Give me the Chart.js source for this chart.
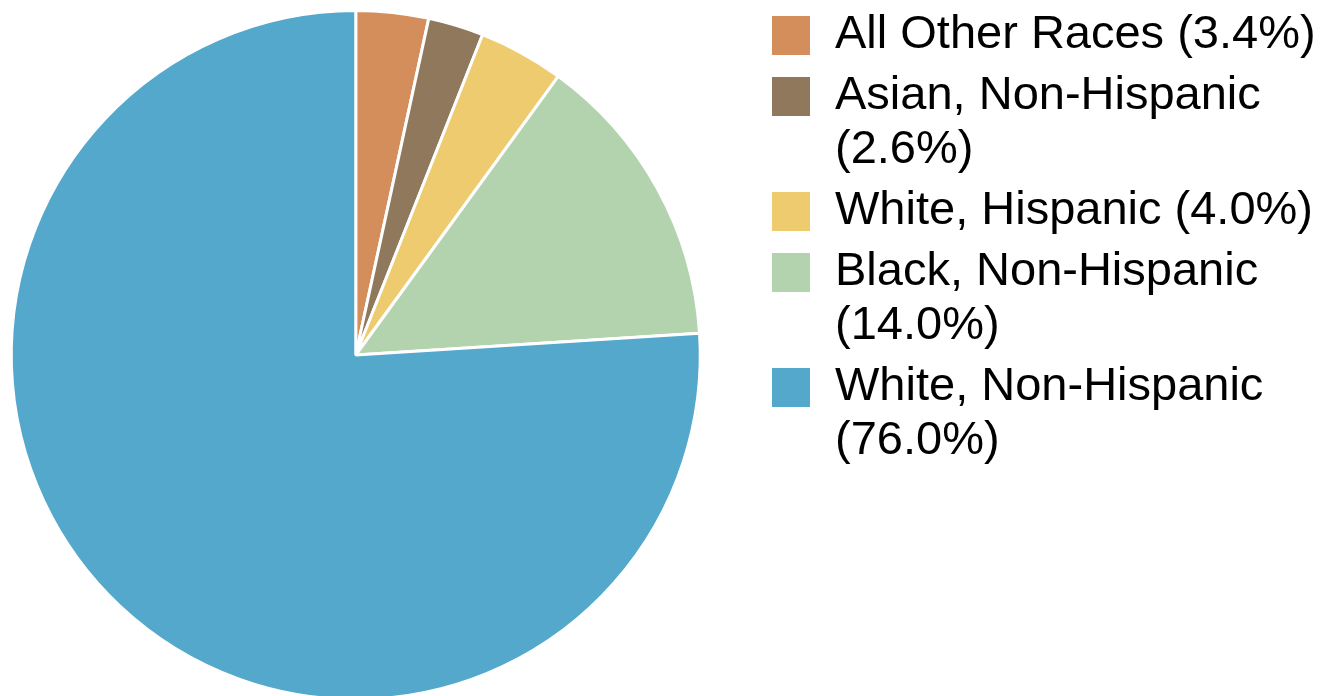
<!DOCTYPE html>
<html>
<head>
<meta charset="utf-8">
<script src="https://cdn.jsdelivr.net/npm/chart.js@4/dist/chart.umd.min.js"></script>
<style>
  html, body { margin: 0; padding: 0; background: #ffffff; overflow: hidden; }
  #view { position: relative; width: 1339px; height: 696px; overflow: hidden; }
  #wrap { position: absolute; left: -52px; top: 0; width: 1391px; height: 705px; }
</style>
</head>
<body>
<div id="view"><div id="wrap"><canvas id="c"></canvas></div></div>
<script>
// ---- data ----
const categories = ['All Other Races', 'Asian, Non-Hispanic', 'White, Hispanic', 'Black, Non-Hispanic', 'White, Non-Hispanic'];
const values = [3.4, 2.6, 4.0, 14.0, 76.0];
const colors = ['#D38E5B', '#8F785B', '#EECB6E', '#B3D3AF', '#53A8CC'];
// legend text as shown (line breaks as in the reference)
const legendLines = [
  ['All Other Races (3.4%)'],
  ['Asian, Non-Hispanic', '(2.6%)'],
  ['White, Hispanic (4.0%)'],
  ['Black, Non-Hispanic', '(14.0%)'],
  ['White, Non-Hispanic', '(76.0%)']
];

const ctx = document.getElementById('c').getContext('2d');
new Chart(ctx, {
  type: 'pie',
  data: {
    labels: categories,
    datasets: [{
      data: values,
      backgroundColor: colors,
      borderColor: '#ffffff',
      borderWidth: 3,
      clip: false
    }]
  },
  options: {
    responsive: true,
    maintainAspectRatio: false,
    animation: false,
    radius: 344.5,
    layout: { padding: { top: 5, bottom: 0, left: 0, right: 25.5 } },
    plugins: {
      tooltip: { enabled: false },
      legend: {
        position: 'right',
        align: 'start',
        maxWidth: 550,
        labels: {
          boxWidth: 41,
          boxHeight: 42,
          padding: 7,
          color: '#000000',
          font: { family: '"Liberation Sans", Arial, sans-serif', size: 47, lineHeight: 1.149 },
          generateLabels: function (chart) {
            const items = Chart.overrides.pie.plugins.legend.labels.generateLabels(chart);
            return items.map((it, i) => Object.assign(it, { text: legendLines[i] }));
          }
        }
      }
    }
  }
});
</script>
</body>
</html>
